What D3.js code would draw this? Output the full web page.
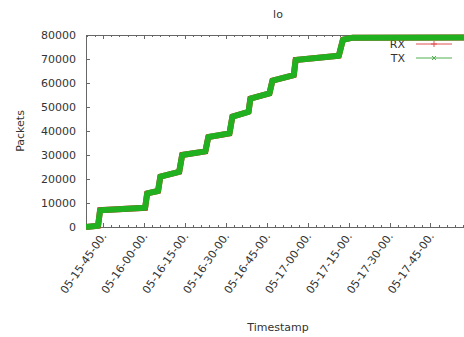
<!DOCTYPE html>
<html><head><meta charset="utf-8">
<script src="https://cdn.jsdelivr.net/npm/d3@7"></script>
<style>body{margin:0;background:#fff}svg{display:block}</style>
</head><body><svg id="c" width="464" height="337"></svg>
<script>
const times = ["15:38:45","15:43:10","15:43:55","16:00:25","16:01:10","16:05:10","16:06:00","16:12:55","16:14:00","16:22:30","16:23:35","16:31:20","16:32:25","16:38:20","16:39:00","16:46:00","16:47:05","16:54:55","16:55:35","17:11:25","17:12:55","17:16:30","17:59:30"];
const rx = [0,500,7000,8000,14000,15000,21000,23000,30000,31500,37500,39000,46000,48000,53500,55700,61000,63300,69600,71400,78000,78900,79000];
const tx = [0,500,7000,8000,14000,15000,21000,23000,30000,31500,37500,39000,46000,48000,53500,55700,61000,63300,69600,71400,78000,78900,79000];
const xTickTimes = ["15:45:00","16:00:00","16:15:00","16:30:00","16:45:00","17:00:00","17:15:00","17:30:00","17:45:00"];
const xTickLabels = ["05-15-45-00.","05-16-00-00.","05-16-15-00.","05-16-30-00.","05-16-45-00.","05-17-00-00.","05-17-15-00.","05-17-30-00.","05-17-45-00."];
const yTicks = [0,10000,20000,30000,40000,50000,60000,70000,80000];
const seriesNames = ["RX","TX"];
const title = "lo", xTitle = "Timestamp", yTitle = "Packets";

const parse = s => d3.timeParse("%Y-%m-%d %H:%M:%S")("2015-01-05 " + s);
const svg = d3.select("#c");
const L = 86, T = 35, B = 227, R = 470;
const x = d3.scaleTime().domain([parse("15:38:45"), parse("17:59:30")]).range([L, R]);
const y = d3.scaleLinear().domain([0, 80000]).range([B, T]);
const axisCol = "#666", txtCol = "#333", font = "DejaVu Sans, sans-serif";

// border
svg.append("path").attr("d", `M${L},${T}H${R}M${L},${T}V${B}H${R}`).attr("stroke", axisCol).attr("fill", "none").attr("stroke-width", 1).attr("shape-rendering","crispEdges");

// x ticks (major + minor), bottom and mirrored top
const majors = xTickTimes.map(parse);
const minors = d3.timeMinute.every(3).range(x.domain()[0], x.domain()[1]);
minors.forEach(t => {
  const isMajor = t.getMinutes() % 15 === 0;
  const len = isMajor ? 4 : 2;
  const xx = Math.round(x(t)) + 0.5;
  svg.append("line").attr("x1", xx).attr("x2", xx).attr("y1", B).attr("y2", B - len).attr("stroke", axisCol);
  svg.append("line").attr("x1", xx).attr("x2", xx).attr("y1", T).attr("y2", T + len).attr("stroke", axisCol);
});
majors.forEach((t, i) => {
  svg.append("text").attr("transform", `translate(${x(t) + 4},${B + 9}) rotate(-55)`)
    .attr("text-anchor", "end").attr("font-family", font).attr("font-size", 11).attr("fill", txtCol)
    .text(xTickLabels[i]);
});
// y ticks
yTicks.forEach(v => {
  const yy = Math.round(y(v)) + 0.5;
  svg.append("line").attr("x1", L).attr("x2", L + 4).attr("y1", yy).attr("y2", yy).attr("stroke", axisCol);
  svg.append("text").attr("x", 76).attr("y", y(v)).attr("dy", "0.36em").attr("text-anchor", "end")
    .attr("font-family", font).attr("font-size", 11).attr("fill", txtCol).text(d3.format("d")(v));
});

// titles
svg.append("text").attr("x", 278).attr("y", 18).attr("text-anchor", "middle").attr("font-family", font).attr("font-size", 11).attr("fill", txtCol).text(title);
svg.append("text").attr("x", 278).attr("y", 331).attr("text-anchor", "middle").attr("font-family", font).attr("font-size", 11).attr("fill", txtCol).text(xTitle);
svg.append("text").attr("transform", `translate(24,131) rotate(-90)`).attr("text-anchor", "middle").attr("font-family", font).attr("font-size", 11).attr("fill", txtCol).text(yTitle);

// legend (drawn before lines so the thick line overlaps it as in the reference)
const legCols = ["#e05050", "#50b050"];
seriesNames.forEach((n, i) => {
  const ly = 44 + i * 14;
  svg.append("text").attr("x", 405).attr("y", ly).attr("dy", "0.36em").attr("text-anchor", "end").attr("font-family", font).attr("font-size", 11).attr("fill", txtCol).text(n);
  svg.append("line").attr("x1", 416).attr("x2", 452).attr("y1", ly).attr("y2", ly).attr("stroke", legCols[i]).attr("stroke-width", 1);
  if (i === 0) svg.append("path").attr("d", `M434,${ly - 3}V${ly + 3}M431,${ly}H437`).attr("stroke", legCols[i]);
  else svg.append("path").attr("d", `M432,${ly - 2}L436,${ly + 2}M432,${ly + 2}L436,${ly - 2}`).attr("stroke", legCols[i]);
});

// lines
svg.append("clipPath").attr("id", "pc").append("rect").attr("x", L).attr("y", T - 4).attr("width", R - L).attr("height", B - T + 8);
const line = d3.line().x(d => x(d[0])).y(d => y(d[1]));
const rxData = times.map((t, i) => [parse(t), rx[i]]);
const txData = times.map((t, i) => [parse(t), tx[i]]);
svg.append("path").datum(rxData).attr("d", line).attr("fill", "none").attr("stroke", "#d62020").attr("stroke-width", 6).attr("clip-path", "url(#pc)");
svg.append("path").datum(txData).attr("d", line).attr("fill", "none").attr("stroke", "#20b020").attr("stroke-width", 6).attr("stroke-linejoin", "round").attr("clip-path", "url(#pc)");
</script></body></html>
